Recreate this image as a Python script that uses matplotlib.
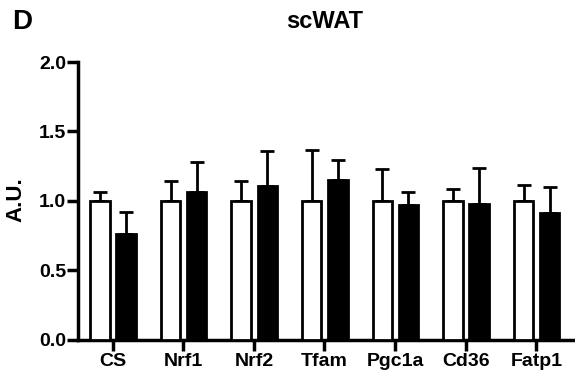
import matplotlib
matplotlib.use("Agg")
from matplotlib import pyplot as plt
import numpy as np

plt.rcParams['font.family'] = ['Liberation Sans', 'DejaVu Sans']
plt.rcParams['font.weight'] = 'bold'

genes = ['CS', 'Nrf1', 'Nrf2', 'Tfam', 'Pgc1a', 'Cd36', 'Fatp1']
ctrl_mean = [1.0, 1.0, 1.0, 1.0, 1.0, 1.0, 1.0]
ctrl_err = [0.063, 0.14, 0.14, 0.368, 0.229, 0.083, 0.112]
treat_mean = [0.763, 1.061, 1.107, 1.148, 0.972, 0.977, 0.91]
treat_err = [0.154, 0.221, 0.252, 0.144, 0.089, 0.262, 0.192]

fig = plt.figure(figsize=(5.75, 3.76), dpi=100)
ax = fig.add_axes([78/575, 36.5/376, 495/575, 277.5/376])

x = np.arange(len(genes))
w = 0.275
zeros = np.zeros(len(genes))
ax.bar(x - 0.18, ctrl_mean, w, color='white', edgecolor='black', linewidth=2, zorder=3)
ax.bar(x + 0.19, treat_mean, w, color='black', edgecolor='black', linewidth=2, zorder=3)
ax.errorbar(x - 0.18, ctrl_mean, yerr=[zeros, ctrl_err], fmt='none', ecolor='black',
            elinewidth=2, capsize=5, capthick=2, zorder=2)
ax.errorbar(x + 0.19, treat_mean, yerr=[zeros, treat_err], fmt='none', ecolor='black',
            elinewidth=2, capsize=5, capthick=2, zorder=2)

ax.set_xlim(-0.49, 6.52)
ax.set_ylim(0, 2.0)
ax.set_yticks([0.0, 0.5, 1.0, 1.5, 2.0])
ax.set_yticklabels(['0.0', '0.5', '1.0', '1.5', '2.0'])
ax.set_xticks(x)
ax.set_xticklabels(genes)
ax.tick_params(axis='both', labelsize=14, width=2.5, length=8, direction='out')
ax.tick_params(axis='x', pad=2)
ax.tick_params(axis='y', pad=0.5)
for s in ['top', 'right']:
    ax.spines[s].set_visible(False)
for s in ['left', 'bottom']:
    ax.spines[s].set_linewidth(2.5)
ax.set_ylabel('A.U.', fontsize=16, fontweight='bold', va='center')
ax.yaxis.set_label_coords((16 - 78) / 495, (339.5 - 200) / 277.5)

fig.text(325/575, 1 - 22/376, 'scWAT', ha='center', va='center', fontsize=17, fontweight='bold')
fig.text(12/575, 1 - 22/376, 'D', ha='left', va='center', fontsize=20, fontweight='bold')

fig.savefig('out.png', dpi=100)
